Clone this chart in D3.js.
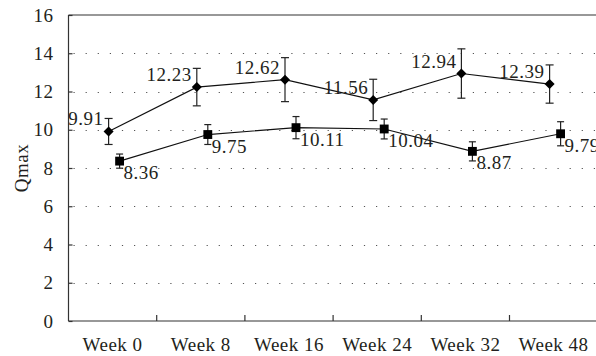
<!DOCTYPE html>
<html>
<head>
<meta charset="utf-8">
<script src="https://cdn.jsdelivr.net/npm/d3@7"></script>
<style>
  html, body { margin: 0; padding: 0; background: #fff; }
  svg { display: block; }
  text { font-family: "Liberation Serif", "Times New Roman", serif; fill: #231f20; letter-spacing: 0.5px; }
</style>
</head>
<body>
<svg id="chart" width="596" height="356"></svg>
<script>
// Qmax over follow-up visits (mean with error bars)
const weeks = ["Week 0", "Week 8", "Week 16", "Week 24", "Week 32", "Week 48"];
const diamondMeans = [9.91, 12.23, 12.62, 11.56, 12.94, 12.39];
const diamondErr   = [0.68, 0.98, 1.15, 1.08, 1.29, 1.00];
const squareMeans  = [8.36, 9.75, 10.11, 10.04, 8.87, 9.79];
const squareErr    = [0.37, 0.52, 0.58, 0.52, 0.50, 0.63];
const yTicks = [0, 2, 4, 6, 8, 10, 12, 14, 16];
const yTitle = "Qmax";

const FONT = "Liberation Serif, Times New Roman, serif";
const FS = 19;

const svg = d3.select("#chart");
const plotLeft = 68.5, plotRight = 597.7, plotTop = 15, plotBottom = 321;

const x = d3.scaleBand().domain(weeks).range([plotLeft, plotRight]).padding(0);
const y = d3.scaleLinear().domain([0, 16]).range([plotBottom, plotTop]);
const cx = d => x(d) + x.bandwidth() / 2;

// dotted horizontal gridlines
svg.append("g")
  .selectAll("line")
  .data(yTicks.filter(v => v > 0 && v < 16))
  .join("line")
  .attr("x1", plotLeft + 5).attr("x2", 596)
  .attr("y1", d => Math.round(y(d)) + 0.5).attr("y2", d => Math.round(y(d)) + 0.5)
  .attr("stroke", "#555")
  .attr("stroke-width", 1.2)
  .attr("stroke-dasharray", "1.2 10.9");

// frame: left axis, top and bottom lines
const frame = svg.append("g").attr("stroke", "#333").attr("stroke-width", 1.2).attr("fill", "none");
frame.append("line").attr("x1", plotLeft).attr("x2", plotLeft).attr("y1", y(16)).attr("y2", y(0));
frame.append("line").attr("x1", plotLeft).attr("x2", 596).attr("y1", y(16)).attr("y2", y(16));
frame.append("line").attr("x1", plotLeft).attr("x2", 596).attr("y1", y(0)).attr("y2", y(0));

// y axis: short inward ticks and labels
const yAxis = d3.axisLeft(y).tickValues(yTicks).tickSizeInner(-4).tickSizeOuter(0)
  .tickPadding(15).tickFormat(d3.format("d"));
const gy = svg.append("g").attr("transform", `translate(${plotLeft},0)`).call(yAxis)
  .attr("font-family", FONT).attr("font-size", FS);
gy.select(".domain").remove();
gy.selectAll(".tick line").attr("stroke", "#333").attr("stroke-width", 1.2);
gy.selectAll("text").attr("fill", "#231f20");

// x axis: ticks between categories, pointing inward
svg.append("g")
  .selectAll("line")
  .data(weeks.slice(1))
  .join("line")
  .attr("x1", d => x(d)).attr("x2", d => x(d))
  .attr("y1", y(0)).attr("y2", y(0) - 6)
  .attr("stroke", "#333").attr("stroke-width", 1.2);

svg.append("g")
  .selectAll("text")
  .data(weeks)
  .join("text")
  .attr("x", d => cx(d))
  .attr("y", 351)
  .attr("text-anchor", "middle")
  .attr("font-size", FS)
  .text(d => d);

// y title
svg.append("text")
  .attr("transform", `translate(28,${(plotTop + plotBottom) / 2}) rotate(-90)`)
  .attr("text-anchor", "middle")
  .attr("font-size", FS)
  .text(yTitle);

function drawSeries(means, errs, dx, shape, cap, labelPos) {
  const pts = weeks.map((w, i) => ({ x: cx(w) + dx, v: means[i], e: errs[i] }));
  const g = svg.append("g");
  // connecting line
  g.append("path")
    .datum(pts)
    .attr("d", d3.line().x(d => d.x).y(d => y(d.v)))
    .attr("fill", "none").attr("stroke", "#111").attr("stroke-width", 1.2);
  // error bars
  const eb = g.append("g").attr("stroke", "#222").attr("stroke-width", 1.2);
  pts.forEach(p => {
    eb.append("line").attr("x1", p.x).attr("x2", p.x).attr("y1", y(p.v + p.e)).attr("y2", y(p.v - p.e));
    eb.append("line").attr("x1", p.x - cap).attr("x2", p.x + cap).attr("y1", y(p.v + p.e)).attr("y2", y(p.v + p.e));
    eb.append("line").attr("x1", p.x - cap).attr("x2", p.x + cap).attr("y1", y(p.v - p.e)).attr("y2", y(p.v - p.e));
  });
  // markers
  g.append("g").selectAll("path").data(pts).join("path")
    .attr("transform", d => `translate(${d.x},${y(d.v)})`)
    .attr("d", shape)
    .attr("fill", "#000");
  // value labels
  g.append("g").selectAll("text").data(pts).join("text")
    .attr("x", d => d.x + labelPos.dx)
    .attr("y", d => y(d.v) + labelPos.dy)
    .attr("text-anchor", labelPos.anchor)
    .attr("font-size", FS)
    .text(d => d.v.toFixed(2));
}

const diamond = d3.symbol().type(d3.symbolDiamond2).size(64)();
const square = d3.symbol().type(d3.symbolSquare2).size(100)();

drawSeries(diamondMeans, diamondErr, -4, diamond, 4, { dx: -5, dy: -6, anchor: "end" });
drawSeries(squareMeans, squareErr, 7, square, 3.5, { dx: 4, dy: 18, anchor: "start" });
</script>
</body>
</html>
